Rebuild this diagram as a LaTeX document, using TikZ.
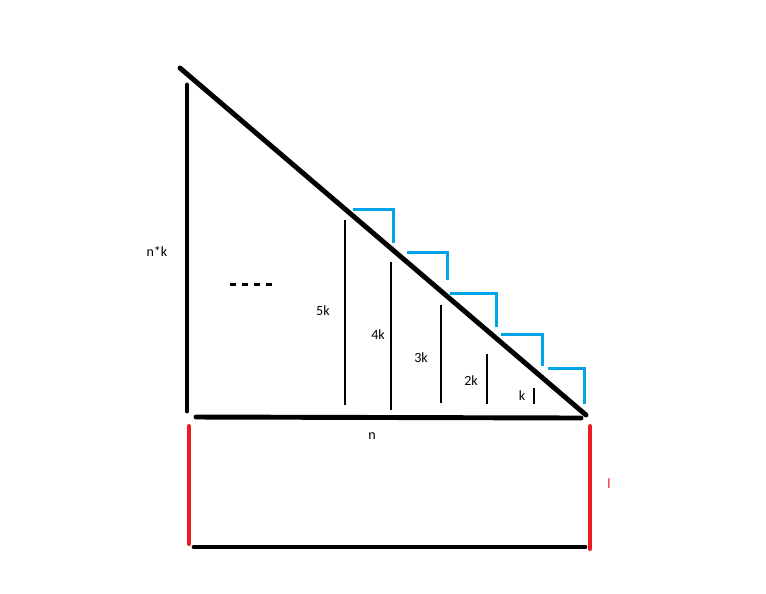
\documentclass[tikz,border=0pt]{standalone}
\usepackage{fontspec}
\setmainfont{Carlito}
\usetikzlibrary{calc,positioning}
\definecolor{stairblue}{RGB}{0,162,232}
\definecolor{sidered}{RGB}{237,28,36}

\begin{document}
\begin{tikzpicture}[x=0.02cm,y=-0.02cm]

\tikzset{bigline/.style={line width=2.8pt,line cap=round},
thinline/.style={line width=1.6pt},
redline/.style={line width=2.3pt,color=sidered,line cap=round},
stairline/.style={line width=1.7pt,color=stairblue},
lbl/.style={font=\fontsize{8}{9}\selectfont,inner sep=0pt}}

\useasboundingbox (0,0) rectangle (766,593);

% Triangle corners
\coordinate (apex) at (180,68);
\coordinate (tip) at (586,415);
\coordinate (lefttop) at (187,85);
\coordinate (leftbot) at (187,411);
\coordinate (baseL) at (196,417);
\coordinate (baseR) at (581,418);

% Triangle
\draw[bigline] (apex) -- (tip);
\draw[bigline] (lefttop) -- (leftbot);
\draw[bigline] (baseL) -- (baseR);

% Box below
\coordinate (redLt) at (189,426); \coordinate (redLb) at (189,544);
\coordinate (redRt) at (590,426); \coordinate (redRb) at (590,549);
\coordinate (floorL) at (194,547); \coordinate (floorR) at (585,547);
\draw[redline] (redLt) -- (redLb);
\draw[redline] (redRt) -- (redRb);
\draw[bigline] (floorL) -- (floorR);

% dots
\coordinate (dotsL) at (230,284); \coordinate (dotsR) at (272,284);
\draw[line width=1.7pt,dash pattern=on 3.4pt off 3.4pt] (dotsL) -- (dotsR);

% columns
\foreach \x/\t/\b in {345/220/405, 391/262/410, 441/305/403, 487/354/404, 534/388/404} {
  \coordinate (c\x t) at (\x,\t); \coordinate (c\x b) at (\x,\b);
  \draw[thinline] (c\x t) -- (c\x b);
}

% steps
\foreach \xa/\xb/\ya/\yb in {353/393/209/243, 407/447/252/280, 450/496/293/327, 501/542/334/366, 548/584/368/404} {
  \coordinate (s\xa a) at (\xa,\ya); \coordinate (s\xa b) at (\xb,\ya); \coordinate (s\xa c) at (\xb,\yb);
  \draw[stairline] (s\xa a) -- (s\xa b) -- (s\xa c);
}

% labels
\node[lbl] (lab5k) at (323,311) {5k};
\node[lbl] (lab4k) at (378,335) {4k};
\node[lbl] (lab3k) at (421,358) {3k};
\node[lbl] (lab2k) at (471,381) {2k};
\node[lbl] (lab1k) at (522,396) {k};
\node[lbl] (labnk) at (157,251) {n*k};
\node[lbl] (labn) at (372,436) {n};
\node[lbl,text=sidered] (labl) at (609,484) {l};

\end{tikzpicture}
\end{document}
